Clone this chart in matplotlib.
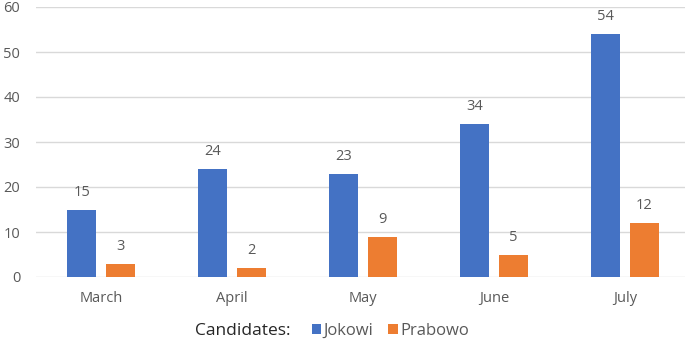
import matplotlib
matplotlib.use("Agg")
import matplotlib.pyplot as plt
import numpy as np

months = ["March", "April", "May", "June", "July"]
jokowi = [15, 24, 23, 34, 54]
prabowo = [3, 2, 9, 5, 12]
series_names = ["Jokowi", "Prabowo"]
yticks = [0, 10, 20, 30, 40, 50, 60]

plt.rcParams['font.family'] = ['Open Sans', 'DejaVu Sans']
gray = "#595959"
blue = "#4472C4"
orange = "#ED7D31"

fig = plt.figure(figsize=(6.85, 3.41), dpi=100)
ax = fig.add_axes([35.5/685, (341-277)/341, 655/685, 270/341])

x = np.arange(len(months))
w = 0.22
off = 0.147
b1 = ax.bar(x - off, jokowi, w, color=blue, label=series_names[0], zorder=3)
b2 = ax.bar(x + off, prabowo, w, color=orange, label=series_names[1], zorder=3)

for bars, vals in ((b1, jokowi), (b2, prabowo)):
    for r, v in zip(bars, vals):
        ax.annotate(str(v), (r.get_x() + r.get_width()/2, v), xytext=(0, 7),
                    textcoords="offset points", ha="center", va="bottom",
                    fontsize=10.5, color=gray)

ax.set_xlim(-0.5, len(months) - 0.5)
ax.set_ylim(0, 60)
ax.set_yticks(yticks)
ax.set_xticks(x)
ax.set_xticklabels(months)
ax.grid(axis="y", color="#d9d9d9", linewidth=1, zorder=0)
for s in ax.spines.values():
    s.set_visible(False)
ax.tick_params(axis="both", length=0, labelsize=10.5, labelcolor=gray)
ax.tick_params(axis="y", pad=11)
ax.tick_params(axis="x", pad=10)

fig.text(195/685, 1 - 331/341, "Candidates:", fontsize=12.5, color="#262626",
         ha="left", va="center")
fig.legend(handles=[b1, b2], loc="center left", bbox_to_anchor=(312/685, 1 - 331/341),
           ncol=2, frameon=False, fontsize=12, handlelength=0.55, handleheight=0.55,
           handletextpad=0.15, columnspacing=0.9, labelcolor=gray, borderpad=0,
           borderaxespad=0)

fig.savefig("out.png", dpi=100)
